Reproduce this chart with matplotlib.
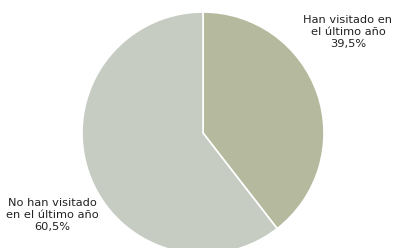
import matplotlib.pyplot as plt

labels = ["Han visitado en\nel último año", "No han visitado\nen el último año"]
values = [39.5, 60.5]
colors = ["#b5ba9e", "#c6ccc2"]

fig = plt.figure(figsize=(3.94, 2.48), dpi=100)
ax = fig.add_axes([0, 0, 1, 1])

ax.pie(values, colors=colors, startangle=90, counterclock=False,
       center=(203, 115), radius=121, frame=True,
       wedgeprops=dict(edgecolor="white", linewidth=1.2))
ax.set_xlim(0, 394)
ax.set_ylim(0, 248)
ax.set_aspect("equal")
ax.axis("off")

# etiquetas
pos = [(348, 216), (52, 33)]
for lab, v, (x, y) in zip(labels, values, pos):
    txt = "%s\n%s%%" % (lab, ("%.1f" % v).replace(".", ","))
    ax.text(x, y, txt, ha="center", va="center", fontsize=8.2,
            linespacing=1.3, color="#222222")

fig.savefig("out.png", dpi=100)
